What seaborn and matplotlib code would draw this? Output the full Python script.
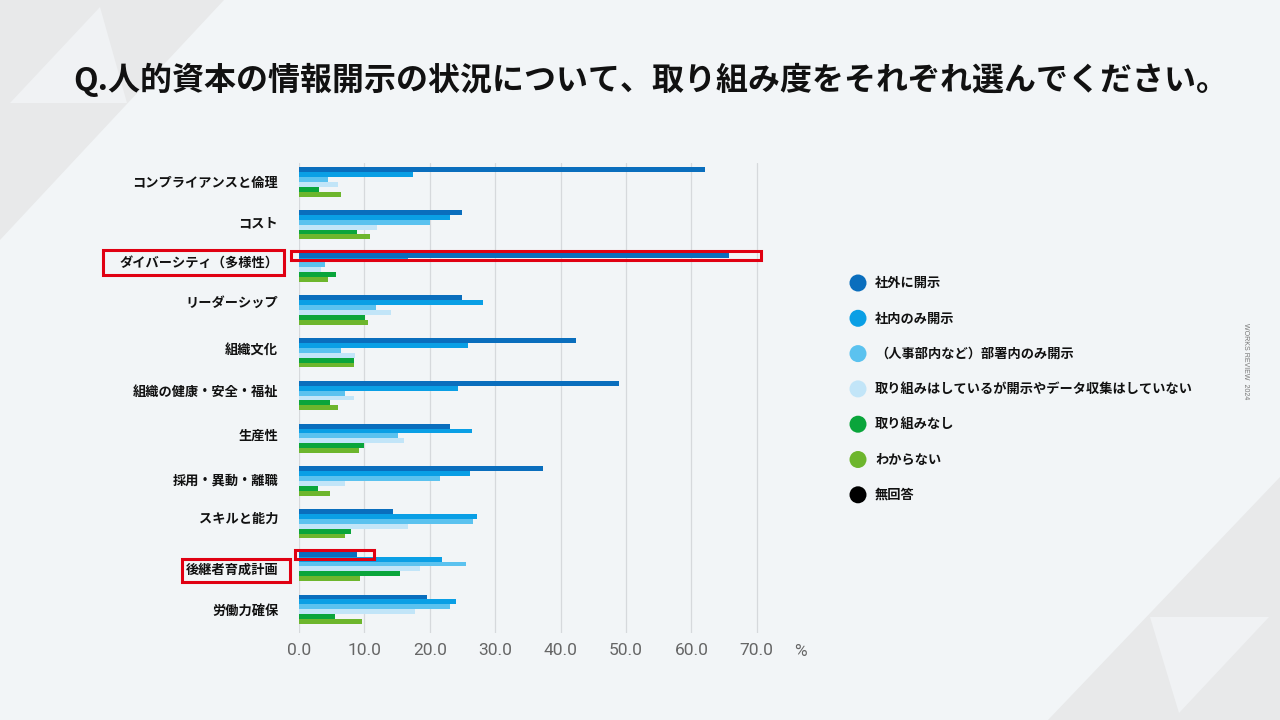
import numpy as np
import pandas as pd
import matplotlib
matplotlib.use("Agg")
import matplotlib.pyplot as plt
import matplotlib.transforms as mtransforms
from matplotlib.patches import Polygon, Rectangle, Ellipse
import seaborn as sns

# ---- data ----
categories = ["コンプライアンスと倫理", "コスト", "ダイバーシティ（多様性）", "リーダーシップ",
              "組織文化", "組織の健康・安全・福祉", "生産性", "採用・異動・離職",
              "スキルと能力", "後継者育成計画", "労働力確保"]

series = ["社外に開示", "社内のみ開示", "（人事部内など）部署内のみ開示",
          "取り組みはしているが開示やデータ収集はしていない",
          "取り組みなし", "わからない", "無回答"]

gaibu = [62.1, 24.9, 65.8, 24.9, 42.4, 49.0, 23.1, 37.3, 14.3, 8.8, 19.5]
shanai = [17.4, 23.1, 16.6, 28.2, 25.8, 24.3, 26.4, 26.1, 27.2, 21.8, 24.0]
busho = [4.5, 20.1, 4.0, 11.7, 6.4, 7.1, 15.2, 21.6, 26.6, 25.6, 23.1]
mikokai = [5.9, 12.0, 3.4, 14.1, 8.6, 8.4, 16.0, 7.0, 16.6, 18.5, 17.8]
nashi = [3.1, 8.8, 5.6, 10.1, 8.4, 4.8, 9.9, 2.9, 8.0, 15.5, 5.5]
wakaranai = [6.4, 10.9, 4.4, 10.6, 8.4, 6.0, 9.1, 4.8, 7.0, 9.3, 9.6]
mukaito = [0.0, 0.0, 0.0, 0.0, 0.0, 0.0, 0.0, 0.0, 0.0, 0.0, 0.0]

xticks = [0, 10, 20, 30, 40, 50, 60, 70]

colors = ["#0a6ebd", "#0a9fe5", "#5bc2ef", "#c2e5f8", "#0aa53b", "#6db62d", "#000000"]

# the slide's category labels sit a little off the bar-group centres (pixels, upward)
label_nudge_px = [0, 3, 6, 9, 4, 5, 4, 2, 6, -2, 0]

values = [gaibu, shanai, busho, mikokai, nashi, wakaranai, mukaito]
rows = []
for s, vals in zip(series, values):
    for c, v in zip(categories, vals):
        rows.append({"cat": c, "series": s, "val": v})
df = pd.DataFrame(rows)

# ---- figure ----
W, H = 1280, 720
BG = "#f2f5f7"
sns.set_style("white")
plt.rcParams["font.family"] = ["Noto Sans CJK JP", "DejaVu Sans"]

fig = plt.figure(figsize=(12.8, 7.2), dpi=100, facecolor=BG)


def fx(x):
    return x / W


def fy(y):
    return 1 - y / H


# background decoration
for pts, col in [
    ([(0, 0), (224, 0), (0, 240)], "#e8e9ea"),
    ([(100, 7), (10, 103), (127, 103)], "#f0f2f4"),
    ([(1280, 477), (1048, 720), (1280, 720)], "#e8e9ea"),
    ([(1150, 617), (1269, 617), (1179, 713)], "#f0f2f4"),
]:
    fig.add_artist(Polygon([(fx(a), fy(b)) for a, b in pts], closed=True,
                           transform=fig.transFigure, facecolor=col,
                           edgecolor="none", zorder=-5))

# axes: x 0 at 299px, 10 units = 65.4px; y from 163 to 633px
x0_px, unit_px = 299, 6.54
xmax = 71
ax = fig.add_axes([fx(x0_px), fy(633), fx(xmax * unit_px), (633 - 163) / H])
ax.patch.set_alpha(0)

sns.barplot(data=df, y="cat", x="val", hue="series", hue_order=series,
            palette=colors, orient="h", width=0.8, saturation=1,
            linewidth=0, legend=False, ax=ax, zorder=3)

ax.set_xlim(0, xmax)
ax.set_ylim(len(categories) - 0.5, -0.5)
ax.set_xticks(xticks)
ax.set_xticklabels([f"{t:.1f}" for t in xticks])
ax.set_xlabel("")
ax.set_ylabel("")
for sp in ax.spines.values():
    sp.set_visible(False)
ax.grid(axis="x", color="#d6d9dc", linewidth=0.9, zorder=0)
ax.grid(axis="y", visible=False)
ax.tick_params(axis="y", length=0, labelleft=False)
ax.tick_params(axis="x", length=0, pad=7, labelsize=12.5, colors="#666666")
for lab in ax.get_xticklabels():
    lab.set_family(["Roboto", "DejaVu Sans"])
    lab.set_fontweight("normal")

# category labels
for i, c in enumerate(categories):
    tr = ax.get_yaxis_transform() + mtransforms.ScaledTranslation(
        -15 / 72, (1 + label_nudge_px[i]) * 0.72 / 72, fig.dpi_scale_trans)
    ax.text(0, i, c, transform=tr, ha="right", va="center", fontsize=9.5,
            fontweight="bold", color="#111111")

fig.text(fx(800), fy(651), "%", fontsize=12.5, color="#666666",
         family=["Roboto", "DejaVu Sans"], fontweight="normal",
         ha="center", va="center")

# title
fig.text(fx(651), fy(80), "Q.人的資本の情報開示の状況について、取り組み度をそれぞれ選んでください。",
         fontsize=23, fontweight="bold", ha="center", va="center", color="#111111")

# red highlight boxes
RED = "#e00012"
pad = 0.05
for idx, xa, xb in [(2, -1.15, 70.7), (9, -0.55, 11.4)]:
    bar = ax.containers[0][idx]
    y0, h = bar.get_y(), bar.get_height()
    ax.add_patch(Rectangle((xa, y0 - pad), xb - xa, h + 2 * pad, fill=False,
                           edgecolor=RED, linewidth=2.2, clip_on=False, zorder=5))

for (a, b, c, d) in [(102.5, 249.5, 283.5, 274.5), (181.5, 558.5, 289.5, 581.5)]:
    fig.add_artist(Rectangle((fx(a), fy(d)), fx(c - a), (d - b) / H, fill=False,
                             edgecolor=RED, linewidth=2.2,
                             transform=fig.transFigure, zorder=5))

# legend
for i, (lab, col) in enumerate(zip(series, colors)):
    y = 283 + i * 35.3
    fig.add_artist(Ellipse((fx(858), fy(y)), fx(17), 17 / H, facecolor=col,
                           edgecolor="none", transform=fig.transFigure))
    fig.text(fx(875), fy(y), lab, fontsize=9.5, fontweight="bold",
             ha="left", va="center", color="#111111")

fig.text(fx(1246), fy(361), "WORKS REVIEW  2024", rotation=-90, fontsize=5,
         color="#777777", ha="center", va="center", family=["Liberation Sans", "DejaVu Sans"])

fig.savefig("out.png", dpi=100, facecolor=BG)
